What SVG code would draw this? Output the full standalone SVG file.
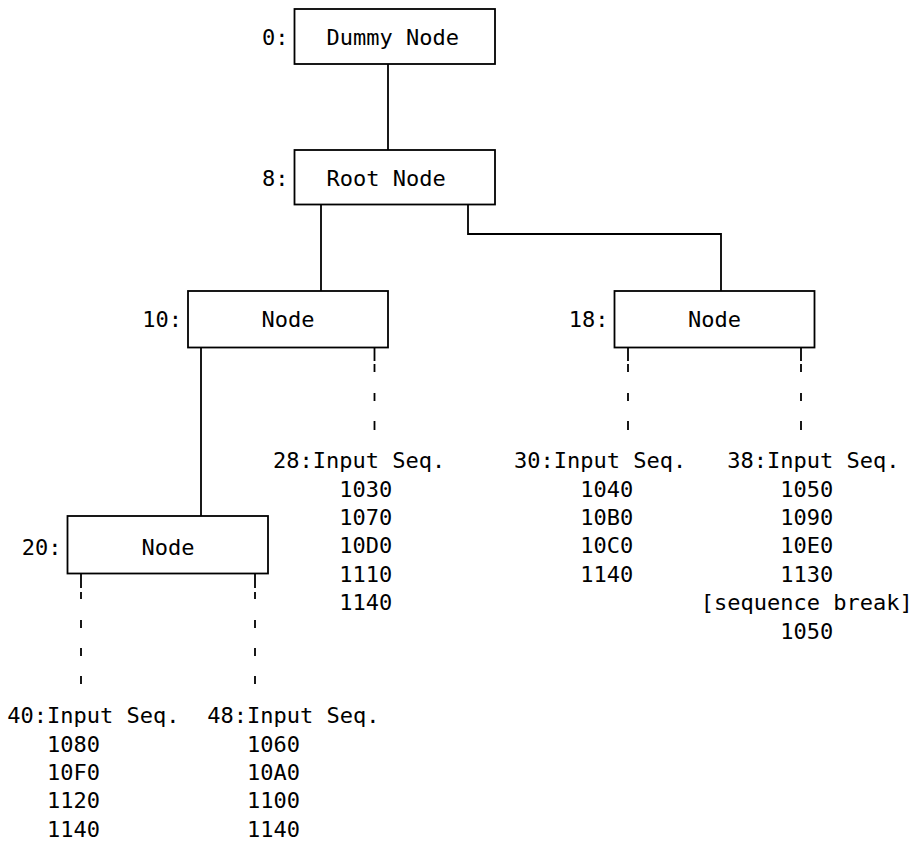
<svg xmlns="http://www.w3.org/2000/svg" width="916" height="841" viewBox="0 0 916 841">
<style>
text{font-family:"DejaVu Sans Mono","Liberation Mono",monospace;font-size:22px;fill:#000}
.box{fill:#fff;stroke:#000;stroke-width:1.8}
.lbl{text-anchor:end}
.ctr{text-anchor:middle}
.ln{fill:none;stroke:#000;stroke-width:1.8}
</style>
<rect width="916" height="841" fill="#fff"/>
<g id="connectors">
<path class="ln" d="M388 64V150"/>
<path class="ln" d="M321 204V291"/>
<path class="ln" d="M468 204V234H721V291"/>
<path class="ln" d="M201 347V516"/>
<path class="ln" d="M374.5 347V361M374.5 364V372M374.5 393V401M374.5 421V430"/>
<path class="ln" d="M628 347V361M628 364V372M628 393V401M628 421V430"/>
<path class="ln" d="M801 347V361M801 364V372M801 393V401M801 421V430"/>
<path class="ln" d="M81 573V588M81 592V599M81 620V628M81 648V656M81 676V684"/>
<path class="ln" d="M255 573V588M255 592V599M255 620V628M255 648V656M255 676V684"/>
</g>
<g id="n0">
<rect class="box" x="294.5" y="9" width="200.5" height="55"/>
<text class="lbl" x="288.5" y="45">0:</text>
<text x="326.5" y="45">Dummy Node</text>
</g>
<g id="n8">
<rect class="box" x="294.5" y="150" width="200.5" height="54.5"/>
<text class="lbl" x="288.5" y="186">8:</text>
<text x="326.5" y="186">Root Node</text>
</g>
<g id="n10">
<rect class="box" x="188" y="291" width="200" height="56.5"/>
<text class="lbl" x="182" y="327">10:</text>
<text class="ctr" x="288" y="327">Node</text>
</g>
<g id="n18">
<rect class="box" x="614.5" y="291" width="200" height="56.5"/>
<text class="lbl" x="608.5" y="327">18:</text>
<text class="ctr" x="714.5" y="327">Node</text>
</g>
<g id="n20">
<rect class="box" x="67.5" y="516" width="200.5" height="57.5"/>
<text class="lbl" x="61.5" y="554.5">20:</text>
<text class="ctr" x="168" y="554.5">Node</text>
</g>
<g id="n28">
<text x="273" y="468">28:Input Seq.</text>
<text x="339.2" y="496.5">1030</text>
<text x="339.2" y="525">1070</text>
<text x="339.2" y="553.3">10D0</text>
<text x="339.2" y="581.7">1110</text>
<text x="339.2" y="610">1140</text>
</g>
<g id="n30">
<text x="514" y="468">30:Input Seq.</text>
<text x="580.3" y="496.5">1040</text>
<text x="580.3" y="525">10B0</text>
<text x="580.3" y="553.3">10C0</text>
<text x="580.3" y="581.7">1140</text>
</g>
<g id="n38">
<text x="727.3" y="468">38:Input Seq.</text>
<text x="780.3" y="496.5">1050</text>
<text x="780.3" y="525">1090</text>
<text x="780.3" y="553.3">10E0</text>
<text x="780.3" y="581.7">1130</text>
<text x="700.8" y="610">[sequence break]</text>
<text x="780.3" y="638.5">1050</text>
</g>
<g id="n40">
<text x="7.2" y="723">40:Input Seq.</text>
<text x="46.9" y="751.5">1080</text>
<text x="46.9" y="780">10F0</text>
<text x="46.9" y="808">1120</text>
<text x="46.9" y="836.5">1140</text>
</g>
<g id="n48">
<text x="207.2" y="723">48:Input Seq.</text>
<text x="246.9" y="751.5">1060</text>
<text x="246.9" y="780">10A0</text>
<text x="246.9" y="808">1100</text>
<text x="246.9" y="836.5">1140</text>
</g>
</svg>
